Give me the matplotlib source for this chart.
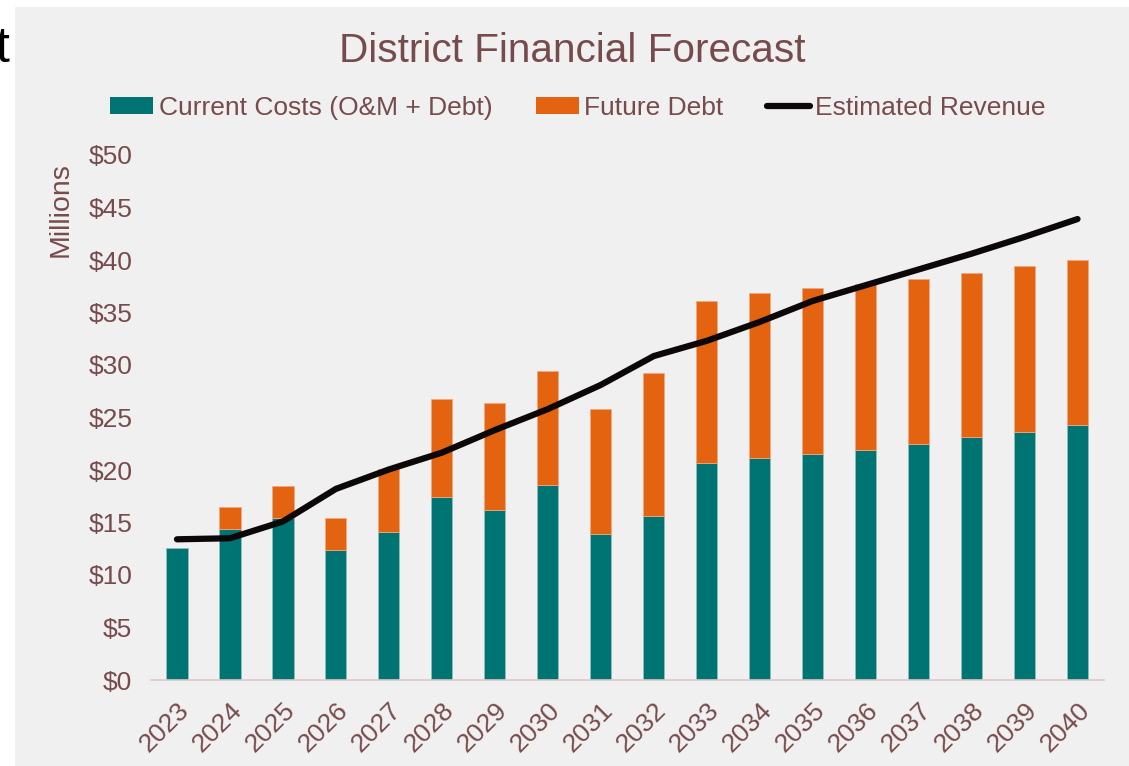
import matplotlib
matplotlib.use("Agg")
import matplotlib.pyplot as plt
from matplotlib.patches import Rectangle
from matplotlib.lines import Line2D
from matplotlib.ticker import FuncFormatter
import numpy as np

plt.rcParams['font.family'] = ['Liberation Sans', 'DejaVu Sans']

years = [str(y) for y in range(2023, 2041)]
current_costs = [12.6, 14.4, 15.45, 12.4, 14.1, 17.4, 16.2, 18.6, 13.95, 15.65,
                 20.7, 21.15, 21.55, 21.95, 22.5, 23.1, 23.65, 24.25]
total_costs = [12.6, 16.5, 18.45, 15.4, 20.05, 26.8, 26.4, 29.4, 25.8, 29.2,
               36.1, 36.9, 37.3, 37.7, 38.2, 38.8, 39.4, 40.0]
future_debt = [t - c for t, c in zip(total_costs, current_costs)]
revenue = [13.4, 13.5, 15.1, 18.2, 20.05, 21.65, 23.8, 25.8, 28.1, 30.85,
           32.3, 34.1, 36.1, 37.6, 39.1, 40.6, 42.2, 43.9]

TEAL = '#007373'
ORANGE = '#E36310'
TEXT = '#774B4B'
BG = '#F0F0F0'

W, H = 1129, 766
fig = plt.figure(figsize=(W / 100, H / 100), dpi=100, facecolor='white')
fig.patches.append(Rectangle((15 / W, 0), 1 - 15 / W, 1 - 7 / H, transform=fig.transFigure,
                             facecolor=BG, edgecolor='none', zorder=-10))

ax = fig.add_axes([150.5 / W, 1 - 680 / H, (1104 - 150.5) / W, (680 - 155) / H])
ax.set_facecolor(BG)
x = np.arange(len(years))
ax.bar(x, current_costs, width=0.4, color=TEAL, edgecolor='#8fbcbc', linewidth=0.6, zorder=2)
ax.bar(x, future_debt, bottom=current_costs, width=0.4, color=ORANGE, edgecolor='#f0a880',
       linewidth=[0.6 if v > 0 else 0 for v in future_debt], zorder=2)
ax.plot(x, revenue, color='#0d0808', linewidth=4.5, solid_capstyle='round', zorder=3)

ax.set_xlim(-0.5, len(years) - 0.5)
ax.set_ylim(0, 50)
ax.set_yticks(range(0, 51, 5))
ax.yaxis.set_major_formatter(FuncFormatter(lambda v, p: f'${int(v)}'))
ax.set_xticks(x)
ax.set_xticklabels(years, rotation=45, ha='right', rotation_mode='anchor')
ax.tick_params(axis='both', length=0, labelsize=19, colors=TEXT)
ax.tick_params(axis='y', pad=13)
ax.tick_params(axis='x', pad=13)
for s in ['top', 'right', 'left']:
    ax.spines[s].set_visible(False)
ax.spines['bottom'].set_color('#dcc8c8')
ax.spines['bottom'].set_linewidth(1.2)

fig.text(61 / W, 1 - 210 / H, 'Millions', rotation=90, ha='center', va='center',
         fontsize=20.5, color=TEXT)

fig.text(572 / W, 1 - 62 / H, 'District Financial Forecast', ha='center', va='baseline',
         fontsize=29.2, color=TEXT)

fig.text(9 / W, 1 - 62 / H, 't', ha='right', va='baseline', fontsize=36, color='black')

handles = [Rectangle((0, 0), 1, 1, facecolor=TEAL, edgecolor='none'),
           Rectangle((0, 0), 1, 1, facecolor=ORANGE, edgecolor='none'),
           Line2D([0], [0], color='#0d0808', linewidth=4.5, solid_capstyle='round')]
labels = ['Current Costs (O&M + Debt)', 'Future Debt', 'Estimated Revenue']
fig.legend(handles, labels, loc='center', bbox_to_anchor=(578 / W, 1 - 108 / H), ncol=3,
           frameon=False, fontsize=19, labelcolor=TEXT, handlelength=1.63, handleheight=0.6,
           handletextpad=0.2, columnspacing=1.65)

fig.savefig('out.png', dpi=100, facecolor='white')
